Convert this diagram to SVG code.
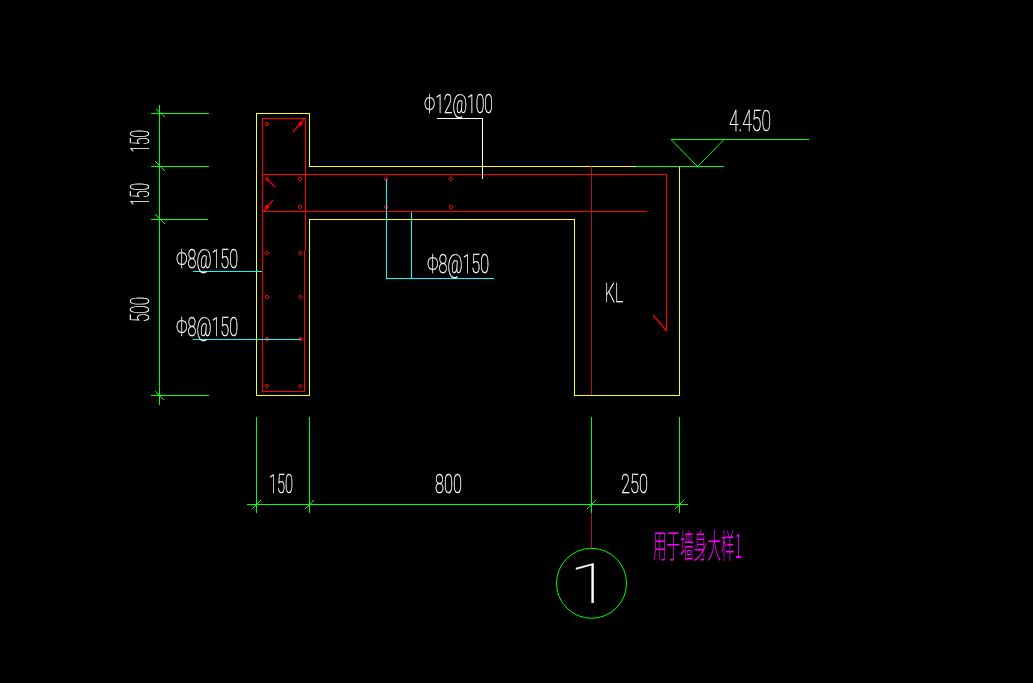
<svg xmlns="http://www.w3.org/2000/svg" width="1033" height="683" viewBox="0 0 1033 683">
<style>
.g{stroke:#00ff00;fill:none;stroke-width:1}
.y{stroke:#ffff00;fill:none;stroke-width:1.2}
.r{stroke:#ff0000;fill:none;stroke-width:1.2}
.rt{stroke:#d81818;fill:none;stroke-width:.8}
.c{stroke:#00ffff;fill:none;stroke-width:1}
.w{stroke:#ffffff;fill:none;stroke-width:1}
.d{stroke:#ff0000;fill:none;stroke-width:1}
.hv{shape-rendering:crispEdges}
#labels,#section-mark{opacity:.999}
text{font-family:"Roboto","Liberation Sans",sans-serif;font-weight:100;font-size:25px;fill:#ffffff;stroke:#ffffff;stroke-width:.4}
.cjk{font-family:"Noto Sans CJK SC",sans-serif;font-weight:300;font-size:27px;fill:#ff00ff;stroke:none}
</style>
<rect width="1033" height="683" fill="#000000"/>
<g id="outline" class="hv">
<path class="y" d="M309.5 166.5H636M679.5 166.5V395.5H574.5V219.5H309.5V395.5H256.5V113.5H309.5V166.5"/>
</g>
<g id="rebar">
<path class="r hv" d="M262.5 174.5H666.5V331M262.5 211.5H647"/>
<path class="r hv" d="M305.5 250V118.5H262.5V391.5H304.5V250"/>
<path class="r" d="M666.5 331L653 315"/>
<path class="rt hv" d="M591.5 166V395"/>
<path class="r" d="M293 132L304 119M267 179L275 187M273 200L264 211"/>
<g class="d">
<circle cx="267" cy="124" r="1.6"/><circle cx="300.5" cy="124" r="1.6" fill="#ff0000"/>
<circle cx="267" cy="179" r="1.6"/><circle cx="300" cy="179" r="1.6"/>
<circle cx="267" cy="207" r="1.6" fill="#ff0000"/><circle cx="300" cy="207" r="1.6"/>
<circle cx="267" cy="253" r="1.6"/><circle cx="300.5" cy="253" r="1.6"/>
<circle cx="267" cy="297" r="1.6"/><circle cx="300.5" cy="297" r="1.6"/>
<circle cx="267" cy="339" r="1.6" fill="#ff0000"/><circle cx="300.5" cy="339" r="1.6" fill="#ff0000"/>
<circle cx="267" cy="386" r="1.6"/><circle cx="300.5" cy="386" r="1.6"/>
<circle cx="386" cy="179" r="1.6"/><circle cx="451" cy="179" r="1.6"/>
<circle cx="386" cy="207" r="1.6"/><circle cx="451" cy="207" r="1.6"/>
</g>
</g>
<g id="connectors">
<path class="c hv" d="M193 271.5H262M193 339.5H300M386.5 179V278.5H494M411.5 212V278"/>
<path class="w hv" d="M437 118.5H482.5V179"/>
</g>
<g id="dimensions">
<path class="g hv" d="M159.5 105V405M151 113.5H209M151 166.5H209M151 219.5H208M151 395.5H209"/>
<path class="g" d="M156 109L165 117M155 161L165 171M155 214L165 224M155 391L164 400"/>
<path class="g hv" d="M247 504.5H688M256.5 417V513M309.5 417V513M591.5 417V513M679.5 417V513"/>
<path class="g" d="M252 509L261 500M305 509L314 500M587 509L596 500M675 509L684 500"/>
<path class="rt hv" d="M591.5 513V548"/>
</g>
<g id="elevation">
<path class="g hv" d="M671 139.5H809M636 166.5H724"/>
<path class="g" d="M671 139.5L697.5 166.5L724 139.5"/>
</g>
<g id="section-mark">
<circle class="g" cx="591.5" cy="583.3" r="35"/>
<text x="569" y="603" textLength="42" lengthAdjust="spacingAndGlyphs" style="font-size:56px;stroke-width:.2">1</text>
</g>
<g id="labels">
<text transform="translate(149,152.5) rotate(-90)" textLength="22.5" lengthAdjust="spacingAndGlyphs">150</text>
<text transform="translate(149,205.5) rotate(-90)" textLength="22.5" lengthAdjust="spacingAndGlyphs">150</text>
<text transform="translate(149,322) rotate(-90)" textLength="25" lengthAdjust="spacingAndGlyphs">500</text>
<text x="269" y="493" textLength="24" lengthAdjust="spacingAndGlyphs">150</text>
<text x="435" y="493" textLength="27" lengthAdjust="spacingAndGlyphs">800</text>
<text x="621" y="493" textLength="27" lengthAdjust="spacingAndGlyphs">250</text>
<text x="176" y="268" textLength="62" lengthAdjust="spacingAndGlyphs">Φ8@150</text>
<text x="176" y="336" textLength="62" lengthAdjust="spacingAndGlyphs">Φ8@150</text>
<text x="427" y="273" textLength="62" lengthAdjust="spacingAndGlyphs">Φ8@150</text>
<text x="424" y="112.5" textLength="69" lengthAdjust="spacingAndGlyphs">Φ12@100</text>
<text x="729" y="131" textLength="42" lengthAdjust="spacingAndGlyphs" style="font-size:30px">4.450</text>
<text x="605" y="301.5" textLength="18" lengthAdjust="spacingAndGlyphs" style="font-size:26px">KL</text>
<text class="cjk" transform="translate(653,558) scale(1,1.2)" textLength="89" lengthAdjust="spacingAndGlyphs">用于墙身大样1</text>
</g>
</svg>
